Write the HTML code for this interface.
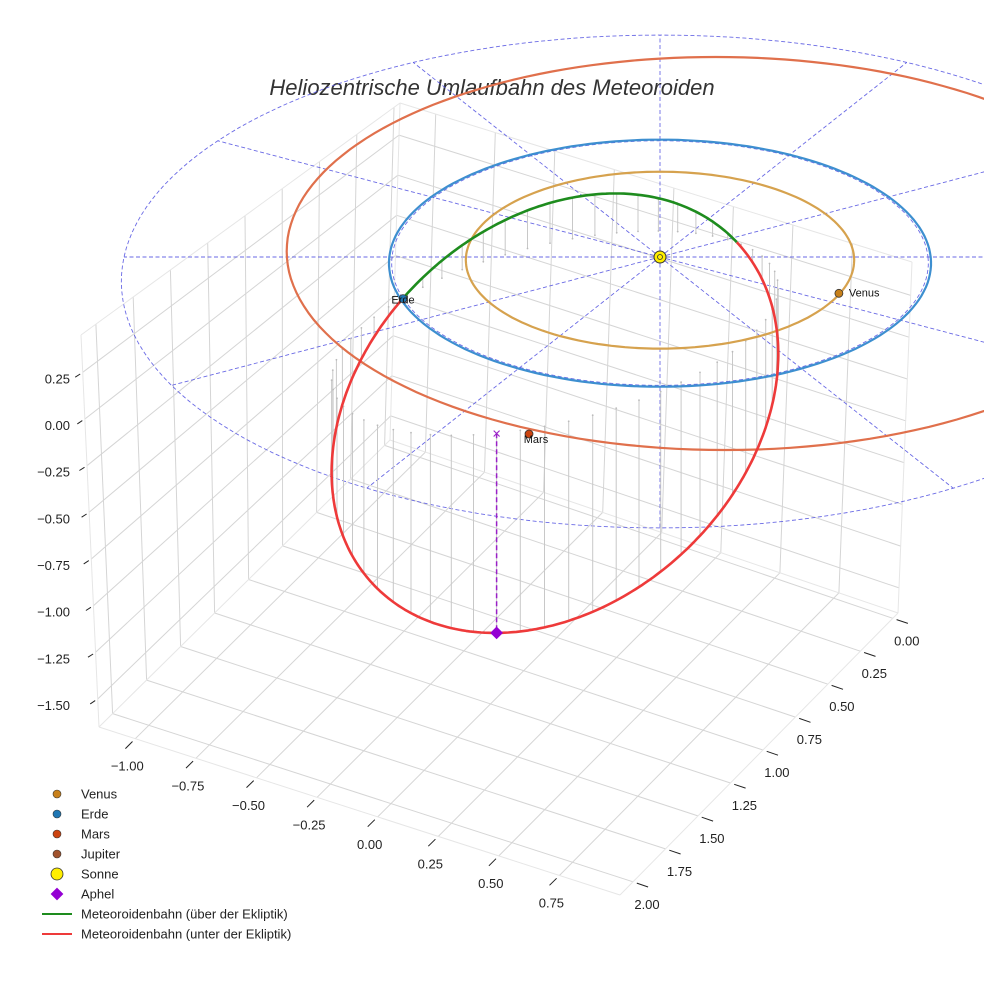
<!DOCTYPE html>
<html><head><meta charset="utf-8"><style>
html,body{margin:0;padding:0;background:#fff;}
svg{display:block;font-family:"Liberation Sans",sans-serif;}
</style></head><body>
<svg id="chart" width="984" height="984" viewBox="0 0 984 984" xmlns="http://www.w3.org/2000/svg">
<text x="492" y="95" text-anchor="middle" font-size="22" font-style="italic" fill="#333">Heliozentrische Umlaufbahn des Meteoroiden</text>
<g id="grid"></g>
<g id="ecl"></g>
<g id="stems"></g>
<g id="orbits"></g>
<g id="met"></g>
<g id="marks"></g>
<g id="legend"></g>
</svg>
<script>
// ---- data ----
const xTicks=[-1.0,-0.75,-0.5,-0.25,0,0.25,0.5,0.75];
const yTicks=[0,0.25,0.5,0.75,1.0,1.25,1.5,1.75,2.0];
const zTicks=[0.25,0,-0.25,-0.5,-0.75,-1.0,-1.25,-1.5];
const orbitNames=['Venus','Erde','Mars'];
const orbitRadius=[0.724,1.01,1.626];
const orbitCenterC=[0,0,0.226];
const orbitCenterS=[0,0,-0.159];
const orbitColors=['#d6a24e','#3d8fd0','#e0704c'];
const planetNames=['Venus','Erde','Mars'];
const planetC=[0.658,-0.943,-0.456];
const planetS=[0.293,0.335,1.353];
const planetColors=['#c8801a','#1f77b4','#cc4410'];
const ringRadius=[1,2];
const radialAngles=[0,30,60,90,120,150,180,210,240,270,300,330];
// meteoroid ellipse: C + U cos t + V sin t  (c, s, z); aphel at t=0
const metCenter=[-0.366,0.574,-0.444];
const metU=[-0.203,0.774,-0.685];
const metV=[0.776,-0.155,-0.122];
const legendLabels=['Venus','Erde','Mars','Jupiter','Sonne','Aphel','Meteoroidenbahn (über der Ekliptik)','Meteoroidenbahn (unter der Ekliptik)'];

const NS='http://www.w3.org/2000/svg';
function mk(tag,attrs,parent){const e=document.createElementNS(NS,tag);for(const k in attrs)e.setAttribute(k,attrs[k]);parent.appendChild(e);return e;}
const B=-0.0497;
function P(c,s,z){const d=1+B*s;return [660+268*c/d,257+(122*s-165*z)/d];}
const xr=[-1.15,1.0],yr=[-0.04,2.1],zr=[-1.65,0.45];
const F={b:[390,440],r:[898,613],l:[99,727],f:[620,895]};
const T={b:[400,103],r:[912,262],l:[81,335],f:[593,494]};
function lerp(a,b,t){return [a[0]+(b[0]-a[0])*t,a[1]+(b[1]-a[1])*t];}
function Q(x,y,z){const u=(x-xr[0])/(xr[1]-xr[0]),v=(y-yr[0])/(yr[1]-yr[0]),w=(z-zr[0])/(zr[1]-zr[0]);
 function plane(C){const a=lerp(C.b,C.r,u),b=lerp(C.l,C.f,u);return lerp(a,b,v);}
 return lerp(plane(F),plane(T),w);}
const grid=document.getElementById('grid');
function line(p,q,col,w,parent,name){const e=mk('line',{x1:p[0].toFixed(1),y1:p[1].toFixed(1),x2:q[0].toFixed(1),y2:q[1].toFixed(1),stroke:col,'stroke-width':w},parent);
 
 return e;}
const gc='#d5d5d5';
yTicks.forEach(y=>line(Q(xr[0],y,zr[0]),Q(xr[0],y,zr[1]),gc,1,grid,'grid-line-y'));
zTicks.forEach(z=>line(Q(xr[0],yr[0],z),Q(xr[0],yr[1],z),gc,1,grid,'grid-line-z'));
xTicks.forEach(x=>line(Q(x,yr[0],zr[0]),Q(x,yr[0],zr[1]),gc,1,grid,'grid-line-x'));
zTicks.forEach(z=>line(Q(xr[0],yr[0],z),Q(xr[1],yr[0],z),gc,1,grid,'grid-line-z'));
xTicks.forEach(x=>line(Q(x,yr[0],zr[0]),Q(x,yr[1],zr[0]),gc,1,grid,'grid-line-x'));
yTicks.forEach(y=>line(Q(xr[0],y,zr[0]),Q(xr[1],y,zr[0]),gc,1,grid,'grid-line-y'));
const ec='#e6e6e6';
[[F.l,F.b],[F.b,F.r],[F.l,F.f],[F.f,F.r],[F.l,T.l],[F.b,T.b],[F.r,T.r],[T.l,T.b],[T.b,T.r]].forEach(p=>line(p[0],p[1],ec,1,grid,'pane-edge'));
function norm(v){const l=Math.hypot(v[0],v[1]);return [v[0]/l,v[1]/l];}
const dX=norm([F.l[0]-F.b[0],F.l[1]-F.b[1]]);
xTicks.forEach(x=>{const p=Q(x,yr[1],zr[0]);line([p[0]+dX[0]*4,p[1]+dX[1]*4],[p[0]+dX[0]*14,p[1]+dX[1]*14],'#222',1,grid,'x-tick');
 const t=mk('text',{x:(p[0]-8).toFixed(1),y:(p[1]+32).toFixed(1),'text-anchor':'middle','font-size':13,fill:'#222'},grid);t.textContent=(x<0?'\u2212':'')+Math.abs(x).toFixed(2);
 
 });
const dY=norm([F.r[0]-F.b[0],F.r[1]-F.b[1]]);
yTicks.forEach(y=>{const p=Q(xr[1],y,zr[0]);line([p[0]+dY[0]*4,p[1]+dY[1]*4],[p[0]+dY[0]*16,p[1]+dY[1]*16],'#222',1,grid,'y-tick');
 const t=mk('text',{x:(p[0]+14).toFixed(1),y:(p[1]+27).toFixed(1),'text-anchor':'middle','font-size':13,fill:'#222'},grid);t.textContent=y.toFixed(2);
 
 });
const dZ=[-0.84,0.54];
zTicks.forEach(z=>{const p=Q(xr[0],yr[1],z);line([p[0]-dZ[0]*-3,p[1]-dZ[1]*-3],[p[0]+dZ[0]*9,p[1]+dZ[1]*9],'#222',1,grid,'z-tick');
 const t=mk('text',{x:70,y:(p[1]+11).toFixed(1),'text-anchor':'end','font-size':13,fill:'#222'},grid);t.textContent=(z<0?'\u2212':'')+Math.abs(z).toFixed(2);
 
 });
const ecl=document.getElementById('ecl');
function circlePts(cc,cs,R,z){const a=[];for(let i=0;i<=360;i+=2){const t=i*Math.PI/180;a.push(P(cc+R*Math.cos(t),cs+R*Math.sin(t),z));}return a;}
function poly(pts,attrs,parent,name){attrs.points=pts.map(p=>p[0].toFixed(1)+','+p[1].toFixed(1)).join(' ');attrs.fill='none';const e=mk('polyline',attrs,parent);
 
 return e;}
ringRadius.forEach(r=>poly(circlePts(0,0,r,0),{stroke:'#5050e0','stroke-width':0.9,'stroke-dasharray':'4,2.5',opacity:0.85},ecl,'ecliptic-ring'));
radialAngles.forEach(a=>{const t=a*Math.PI/180;const e=line(P(0,0,0),P(2*Math.cos(t),2*Math.sin(t),0),'#5050e0',0.9,ecl,'ecliptic-radial-line');e.setAttribute('stroke-dasharray','4,2.5');e.setAttribute('opacity','0.85');});
const N=360,met=[];
for(let i=0;i<=N;i++){const t=i/N*2*Math.PI,c=Math.cos(t),s=Math.sin(t);
 met.push([metCenter[0]+metU[0]*c+metV[0]*s,metCenter[1]+metU[1]*c+metV[1]*s,metCenter[2]+metU[2]*c+metV[2]*s]);}
const stems=document.getElementById('stems');
for(let i=0;i<N;i+=6){const m=met[i];const a=P(m[0],m[1],m[2]),b=P(m[0],m[1],0);line(a,b,'#c8c8c8',1,stems,'drop-line');
 const d=mk('circle',{cx:b[0].toFixed(1),cy:b[1].toFixed(1),r:0.9,fill:'#bbb'},stems);
 
 }
const orb=document.getElementById('orbits');
orbitNames.forEach((n,i)=>poly(circlePts(orbitCenterC[i],orbitCenterS[i],orbitRadius[i],0),{stroke:orbitColors[i],'stroke-width':2.2},orb,'orbit-'+n.toLowerCase()));
const mg=document.getElementById('met');
let seg=[],above=met[0][2]>=0;
function flush(){if(seg.length>1)poly(seg,{stroke:above?'#1e8c1e':'#ee3a3a','stroke-width':2.6,'stroke-linejoin':'round'},mg,above?'meteoroid-path-above':'meteoroid-path-below');}
met.forEach(m=>{const ab=m[2]>=0;const p=P(m[0],m[1],m[2]);if(ab!==above){seg.push(p);flush();seg=[p];above=ab;}else seg.push(p);});
flush();
const am=met[0],ap=P(am[0],am[1],am[2]),ae=P(am[0],am[1],0);
const marks=document.getElementById('marks');
const vl=line(ae,ap,'#9a20c8',1.5,marks,'aphel-drop-line');vl.setAttribute('stroke-dasharray','5,3');
const xm=mk('text',{x:ae[0].toFixed(1),y:(ae[1]+5).toFixed(1),'text-anchor':'middle','font-size':15,fill:'#9a20c8'},marks);xm.textContent='×';


const dm=mk('rect',{x:(ap[0]-4.5).toFixed(1),y:(ap[1]-4.5).toFixed(1),width:9,height:9,fill:'#9400d3',transform:`rotate(45 ${ap[0].toFixed(1)} ${ap[1].toFixed(1)})`},marks);


const sp=P(0,0,0);
const sun=mk('circle',{cx:sp[0],cy:sp[1],r:6,fill:'#ffee00',stroke:'#333','stroke-width':1},marks);


const si=mk('circle',{cx:sp[0],cy:sp[1],r:2.5,fill:'none',stroke:'#333','stroke-width':0.8},marks);


planetNames.forEach((n,i)=>{const p=P(planetC[i],planetS[i],0);
 const c=mk('circle',{cx:p[0].toFixed(1),cy:p[1].toFixed(1),r:4,fill:planetColors[i],stroke:'#333','stroke-width':0.8},marks);
 
 
 const off=n==='Venus'?[10,3]:n==='Erde'?[0,5]:[7,9];
 const t=mk('text',{x:(p[0]+off[0]).toFixed(1),y:(p[1]+off[1]).toFixed(1),'text-anchor':n==='Venus'?'start':'middle','font-size':11,fill:'#111'},marks);t.textContent=n;
 
 });
const lg=document.getElementById('legend');
const legendMarkers=['#c8801a','#1f77b4','#cc4410','#a0522d','sun','aphel','#1e8c1e','#ee3a3a'];
legendLabels.forEach((l,i)=>{const y=794+i*20;const m=legendMarkers[i];let e;
 if(i<4){e=mk('circle',{cx:57,cy:y,r:4,fill:m,stroke:'#333','stroke-width':0.6},lg);}
 else if(m==='sun'){e=mk('circle',{cx:57,cy:y,r:6,fill:'#ffee00',stroke:'#333','stroke-width':0.8},lg);}
 else if(m==='aphel'){e=mk('rect',{x:52.5,y:y-4.5,width:9,height:9,fill:'#9400d3',transform:`rotate(45 57 ${y})`},lg);}
 else {e=mk('line',{x1:42,y1:y,x2:72,y2:y,stroke:m,'stroke-width':2},lg);}
 
 
 const t=mk('text',{x:81,y:y+4.5,'font-size':13,fill:'#222'},lg);t.textContent=l;
 
 });
</script>
</body></html>
